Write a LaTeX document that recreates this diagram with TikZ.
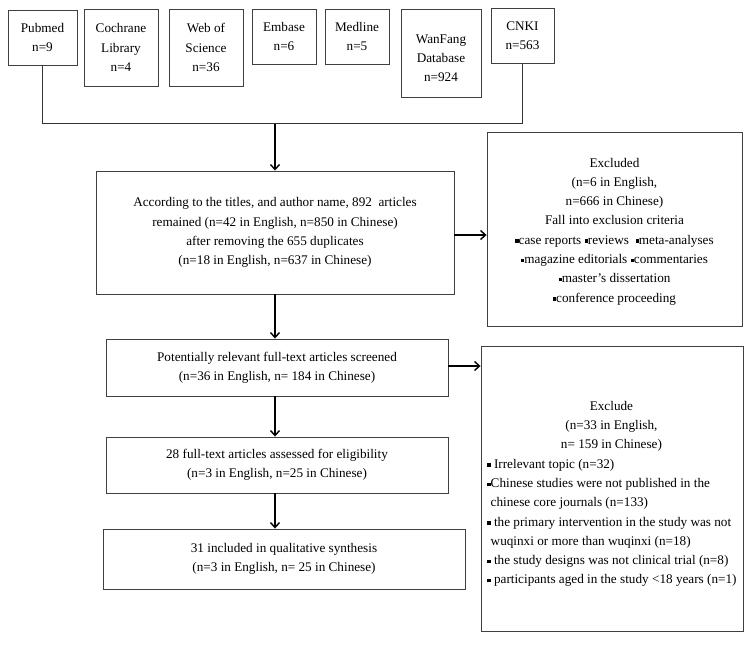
\documentclass[tikz,border=0pt]{standalone}
\usepackage{fontspec}
\setmainfont{Liberation Serif}
\usepackage{tikz}
\usetikzlibrary{arrows.meta}
\newcommand{\sqb}{\raisebox{0.25ex}{\rule{3.3pt}{3.3pt}}}
\newcommand{\midline}[1]{\makebox[248pt]{#1}}

\begin{document}
\begin{tikzpicture}[x=1pt,y=-1pt,
 box/.style={draw=black!75, line width=0.9pt, align=center, inner sep=0pt, font=\fontsize{13.2}{19.3}\selectfont},
 link/.style={line width=1.4pt},
 arr/.style={link,-{Straight Barb[length=5pt,width=9pt]}}]
\useasboundingbox (0,0) rectangle (752,647);

\node[box, minimum width=69, minimum height=55] (pubmed) at (42.5,37.5) {Pubmed\\n=9};
\node[box, minimum width=74, minimum height=77] (cochrane) at (121,47.5) {Cochrane\\Library\\n=4};
\node[box, minimum width=74, minimum height=77] (wos) at (206,47.5) {Web of\\Science\\n=36};
\node[box, minimum width=64, minimum height=55] (embase) at (284,36.5) {Embase\\n=6};
\node[box, minimum width=64, minimum height=55] (medline) at (357,36.5) {Medline\\n=5};
\node[box, minimum width=80, minimum height=88] (wanfang) at (441,53) {\mbox{}\\WanFang\\Database\\n=924};
\node[box, minimum width=63, minimum height=55] (cnki) at (522.5,35.5) {CNKI\\n=563};

\node[box, minimum width=358, minimum height=123] (merged) at (275,232.5)
 {According to the titles, and author name, 892\ \ articles\\remained (n=42 in English, n=850 in Chinese)\\after removing the 655 duplicates\\(n=18 in English, n=637 in Chinese)};
\node[box, minimum width=255, minimum height=194] (excl1) at (614.5,229)
 {\rule{0pt}{14pt}Excluded\\(n=6 in English,\\n=666 in Chinese)\\Fall into exclusion criteria\\\sqb case reports \sqb reviews \ \sqb meta-analyses\\\sqb magazine editorials \sqb commentaries\\\sqb master's dissertation\\\sqb conference proceeding};
\node[box, minimum width=342, minimum height=57] (screened) at (277,367.5)
 {Potentially relevant full-text articles screened\\(n=36 in English, n= 184 in Chinese)};
\node[box, minimum width=342, minimum height=56] (assessed) at (277,465)
 {28 full-text articles assessed for eligibility\\(n=3 in English, n=25 in Chinese)};
\node[box, minimum width=362, minimum height=60] (included) at (284,559)
 {31 included in qualitative synthesis\\(n=3 in English, n= 25 in Chinese)};
\node[box, minimum width=262, minimum height=285, align=left] (excl2) at (612,488.5)
 {\rule{0pt}{20pt}\midline{Exclude}\\\midline{(n=33 in English,}\\\midline{n= 159 in Chinese)}\\
 \sqb\ Irrelevant topic (n=32)\\
 \sqb Chinese studies were not published in the\\
 \ chinese core journals (n=133)\\
 \sqb\ the primary intervention in the study was not\\
 \ wuqinxi or more than wuqinxi (n=18)\\
 \sqb\ the study designs was not clinical trial (n=8)\\
 \sqb\ participants aged in the study <18 years (n=1)};

\coordinate (j) at (merged.north |- 0,124);
\draw[link, draw=black!80, line width=1pt] (pubmed.south) -- (pubmed.south |- j) -- (cnki.south |- j) -- (cnki.south);
\draw[arr] (j) -- (merged.north);
\draw[arr] (merged.south) -- (merged.south |- screened.north);
\draw[arr] (merged.south |- screened.south) -- (merged.south |- assessed.north);
\draw[arr] (merged.south |- assessed.south) -- (merged.south |- included.north);
\draw[arr] ([yshift=-2.5]merged.east) -- ([yshift=-2.5]merged.east -| excl1.west);
\draw[arr] ([yshift=1.5]screened.east) -- ([yshift=1.5]screened.east -| excl2.west);
\end{tikzpicture}
\end{document}
